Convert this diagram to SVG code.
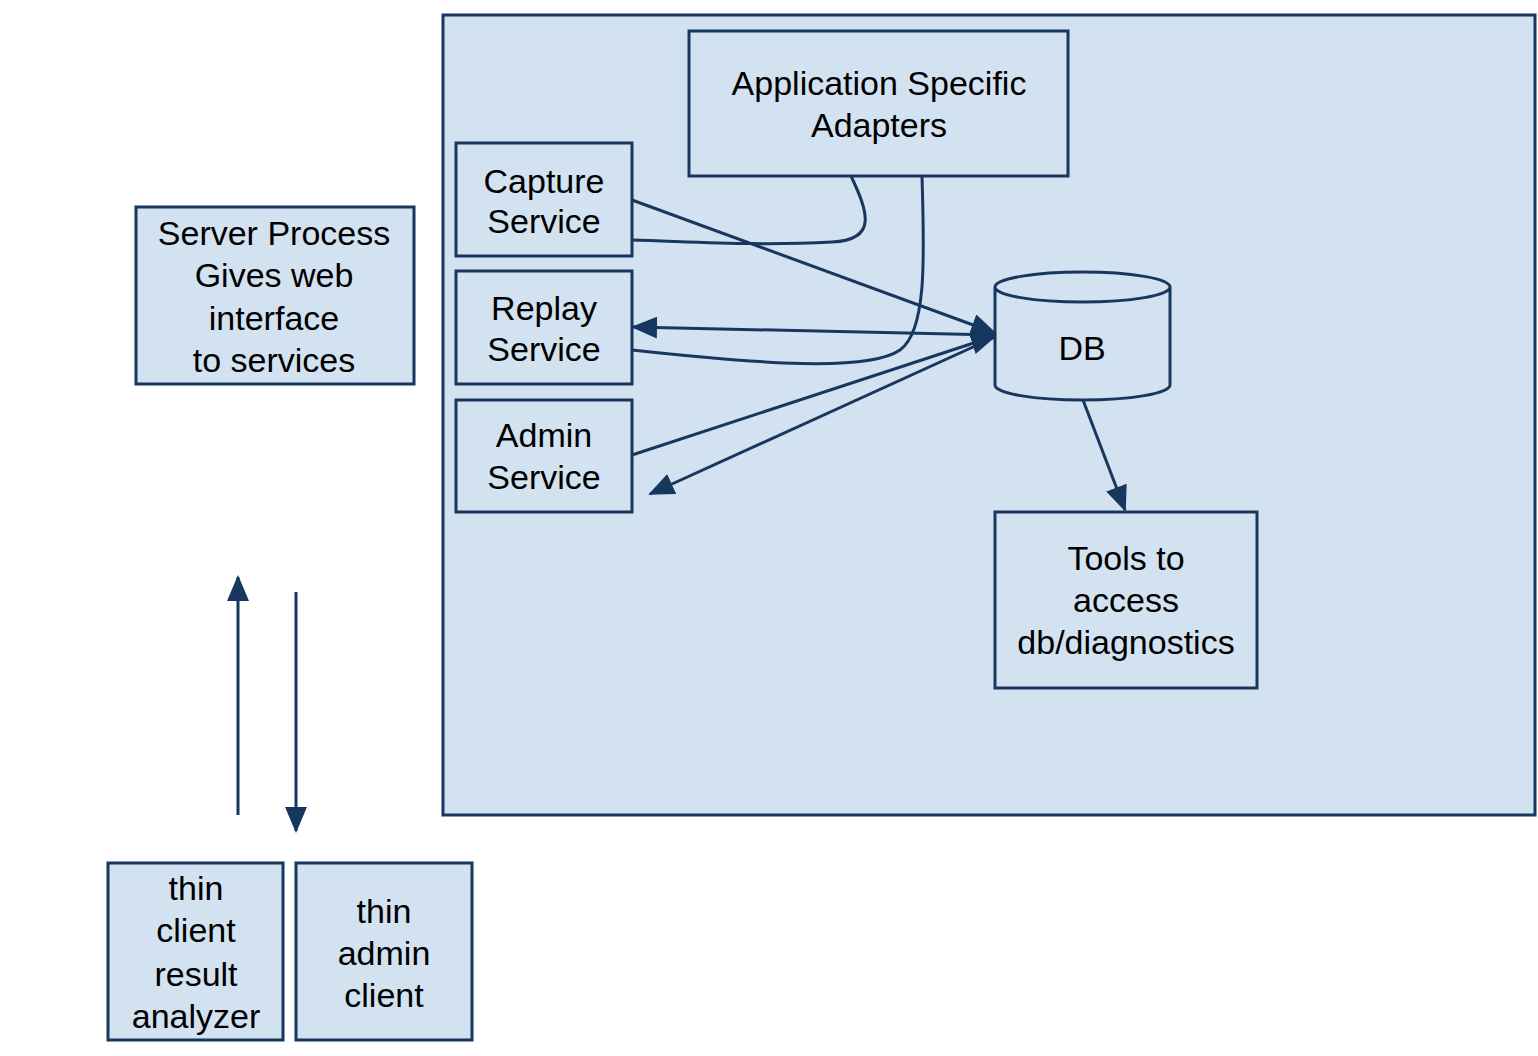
<svg xmlns="http://www.w3.org/2000/svg" width="1538" height="1056" viewBox="0 0 1538 1056">
<defs>
<style>
.box{fill:#d3e2f1;stroke:#17375e;stroke-width:3}
.cont{fill:#d3e2f1;stroke:#17375e;stroke-width:3}
.ln{fill:none;stroke:#17375e;stroke-width:3}
text{font-family:"Liberation Sans",Arial,sans-serif;font-size:34px;fill:#000;text-anchor:middle}
</style>
<marker id="ah" markerUnits="userSpaceOnUse" markerWidth="26" markerHeight="22" viewBox="0 0 26 22" refX="24" refY="11" orient="auto">
<path d="M0,0 L26,11 L0,22 Z" fill="#17375e"/>
</marker>
</defs>
<rect width="1538" height="1056" fill="#fff"/>
<g id="container"><rect class="cont" x="443" y="15" width="1092" height="800"/></g>
<g id="adapters"><rect class="box" x="689" y="31" width="379" height="145"/>
<text x="879" y="95">Application Specific</text><text x="879" y="137">Adapters</text></g>
<g id="capture"><rect class="box" x="456" y="143" width="176" height="113"/>
<text x="544" y="193">Capture</text><text x="544" y="233">Service</text></g>
<g id="replay"><rect class="box" x="456" y="271" width="176" height="113"/>
<text x="544" y="320">Replay</text><text x="544" y="361">Service</text></g>
<g id="admin"><rect class="box" x="456" y="400" width="176" height="112"/>
<text x="544" y="447">Admin</text><text x="544" y="489">Service</text></g>
<g id="server"><rect class="box" x="136" y="207" width="278" height="177"/>
<text x="274" y="245">Server Process</text><text x="274" y="287">Gives web</text><text x="274" y="330">interface</text><text x="274" y="372">to services</text></g>
<g id="db"><path class="box" d="M995,287 v98 a87.5,15 0 0 0 175,0 v-98 a87.5,15 0 0 0 -175,0 a87.5,15 0 0 0 175,0"/>
<text x="1082" y="360">DB</text></g>
<g id="tools"><rect class="box" x="995" y="512" width="262" height="176"/>
<text x="1126" y="570">Tools to</text><text x="1126" y="612">access</text><text x="1126" y="654">db/diagnostics</text></g>
<g id="thinclient"><rect class="box" x="108" y="863" width="175" height="177"/>
<text x="196" y="900">thin</text><text x="196" y="942">client</text><text x="196" y="986">result</text><text x="196" y="1028">analyzer</text></g>
<g id="thinadmin"><rect class="box" x="296" y="863" width="176" height="177"/>
<text x="384" y="923">thin</text><text x="384" y="965">admin</text><text x="384" y="1007">client</text></g>
<g id="connectors">
<path class="ln" d="M851,176 C868,212 878,240 832,242 C760,246 700,242 632,240"/>
<path class="ln" d="M922,176 C924,250 928,330 900,350 C868,372 760,364 632,350"/>
<line class="ln" x1="632" y1="200" x2="995" y2="333" marker-end="url(#ah)"/>
<line class="ln" x1="995" y1="335" x2="633" y2="327" marker-end="url(#ah)"/>
<line class="ln" x1="632" y1="455" x2="995" y2="336" marker-end="url(#ah)"/>
<line class="ln" x1="995" y1="337" x2="650" y2="494" marker-end="url(#ah)"/>
<line class="ln" x1="1083" y1="400" x2="1125" y2="510" marker-end="url(#ah)"/>
<line class="ln" x1="238" y1="815" x2="238" y2="577" marker-end="url(#ah)"/>
<line class="ln" x1="296" y1="592" x2="296" y2="831" marker-end="url(#ah)"/>
</g>
</svg>
